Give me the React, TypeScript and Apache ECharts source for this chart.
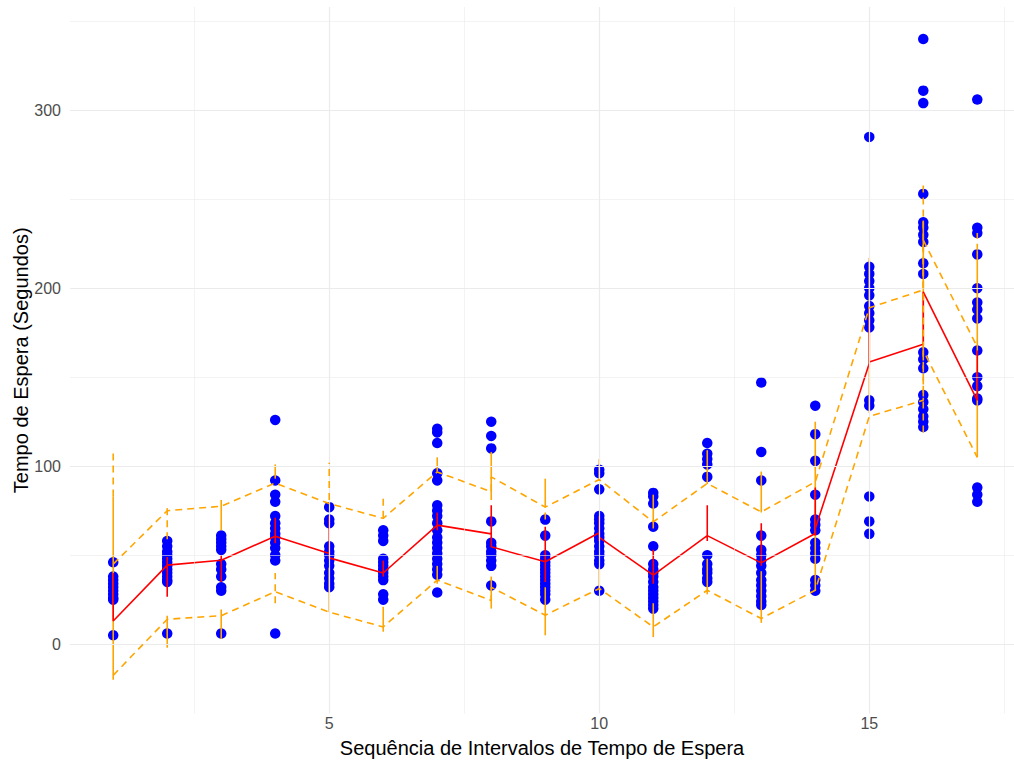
import React, { useEffect, useRef } from "react";
import * as echarts from "echarts";

// ---- axis ticks / grid ----
const xTickValues = [5, 10, 15];
const yTickValues = [0, 100, 200, 300];
const xMajorGrid = [5, 10, 15];
const xMinorGrid = [2.5, 7.5, 12.5, 17.5];
const yMajorGrid = [0, 100, 200, 300];
const yMinorGrid = [50, 150, 250, 350];

// ---- data ----
const positions = [1, 2, 3, 4, 5, 6, 7, 8, 9, 10, 11, 12, 13, 14, 15, 16, 17];

const waitTimes: number[][] = [
  [46, 38, 36, 34, 32, 30, 28, 26, 25, 5],
  [58, 55, 52, 50, 48, 46, 44, 42, 40, 38, 36, 35, 6],
  [61, 59, 57, 55, 53, 45, 42, 38, 32, 30, 6],
  [126, 92, 84, 80, 72, 68, 65, 62, 60, 57, 54, 50, 47, 6],
  [77, 70, 68, 55, 52, 50, 47, 44, 40, 37, 34, 32],
  [64, 61, 58, 48, 46, 44, 42, 40, 38, 36, 28, 25],
  [121, 119, 113, 96, 92, 78, 75, 72, 68, 64, 60, 57, 54, 51, 48, 45, 42, 39, 29],
  [125, 117, 110, 69, 57, 55, 52, 50, 47, 44, 33],
  [70, 61, 50, 48, 46, 44, 42, 40, 38, 36, 34, 32, 30, 28, 25],
  [98, 96, 87, 72, 70, 68, 65, 62, 60, 58, 55, 52, 50, 47, 45, 30],
  [85, 83, 79, 66, 55, 45, 42, 40, 38, 35, 32, 30, 28, 26, 24, 22, 20],
  [113, 107, 104, 101, 94, 50, 45, 42, 40, 37, 35],
  [147, 108, 92, 61, 53, 50, 47, 44, 40, 36, 33, 30, 27, 24, 22],
  [134, 118, 103, 84, 70, 67, 64, 57, 54, 51, 48, 36, 33, 30],
  [285, 212, 208, 204, 200, 196, 190, 186, 182, 178, 137, 134, 83, 69, 62],
  [340, 311, 304, 253, 237, 234, 230, 226, 214, 208, 164, 160, 155, 140, 136, 132, 128, 125, 122],
  [306, 234, 231, 219, 200, 192, 188, 183, 165, 150, 145, 138, 137, 88, 84, 80],
];

// red summary line (entry / exit value at each position and its vertical span)
const redIn = [13, 44.4, 47.2, 60.7, 51, 40, 66.9, 62, 46.3, 62.6, 38.8, 61, 45.7, 62.2, 157.7, 168.5, 137];
const redOut = [13, 44.4, 47.2, 60.7, 48.5, 40, 66.9, 54.7, 46.3, 60, 38.8, 61, 45.7, 65, 158.5, 198, 137];
const redLo = [13, 26.6, 35, 56.7, 48, 38, 64, 54.7, 35, 58, 34, 58, 44, 61, 157, 168, 137];
const redHi = [40, 49, 50, 71, 72, 47, 74, 78, 66, 72, 53, 78, 68, 88, 189, 198, 165];

// orange dashed upper / lower bounds (entry / exit at each position)
const upperIn = [45, 75, 77.5, 90.5, 79, 70.7, 96.8, 85.6, 77, 92.5, 68.7, 90.3, 74.3, 91.2, 189, 199, 167];
const upperOut = [45, 75, 77.5, 90.5, 79, 70.7, 96.8, 94, 77, 92.5, 68.7, 90.3, 74.3, 91.2, 189, 227, 167];
const lowerIn = [-17.5, 14, 16, 29.5, 18, 9.7, 36, 24.5, 16.3, 31.3, 9.7, 30.3, 14.4, 30.3, 128, 137, 105];
const lowerOut = [-17.5, 14, 16, 29.5, 18, 9.7, 36, 32, 16.3, 31.3, 9.7, 30.3, 14.4, 30.3, 128, 165, 105];

// orange vertical ranges: [position, low, high]
const orangeSolid: number[][] = [
  [1, -20, 83],
  [2, -2, 16],
  [3, 64, 81], [3, 3, 19.5],
  [4, 93, 101],
  [5, 18, 43],
  [6, 7, 21],
  [7, 97, 105], [7, 34, 44],
  [8, 81, 108], [8, 20, 38],
  [9, 77, 93], [9, 5, 32],
  [10, 92, 104], [10, 31, 43],
  [11, 65, 84], [11, 4, 23],
  [12, 90, 109], [12, 28, 48],
  [13, 74, 97], [13, 12, 41],
  [14, 30, 125],
  [15, 130, 217],
  [16, 163, 238],
  [17, 105, 221],
];
const orangeDashed: number[][] = [
  [1, 83, 110],
  [2, 59, 78],
  [4, 23, 40],
  [5, 81, 102],
  [6, 71, 82],
  [9, 70, 77],
  [16, 119, 259],
  [17, 221, 231],
];

const BLUE = "#0000FF";
const RED = "#FF0000";
const ORANGE = "#FFA500";
const GRID = "#EBEBEB";
const FONT = "Liberation Sans, Arial, sans-serif";

export default function App() {
  const ref = useRef<HTMLDivElement>(null);

  useEffect(() => {
    if (!ref.current) return;
    const chart = echarts.init(ref.current, undefined, { renderer: "svg" });

    const points: number[][] = [];
    positions.forEach((p, i) => waitTimes[i].forEach((v) => points.push([p, v])));

    const redPath: number[][] = [];
    positions.forEach((p, i) => {
      redPath.push([p, redIn[i]], [p, redLo[i]], [p, redHi[i]], [p, redOut[i]]);
    });
    const upperPath: number[][] = [];
    const lowerPath: number[][] = [];
    positions.forEach((p, i) => {
      upperPath.push([p, upperIn[i]], [p, upperOut[i]]);
      lowerPath.push([p, lowerIn[i]], [p, lowerOut[i]]);
    });

    const segRender = (dash: number[] | null) => (params: any, api: any) => {
      const x = api.value(0);
      const a = api.coord([x, api.value(1)]);
      const b = api.coord([x, api.value(2)]);
      return {
        type: "line",
        shape: { x1: a[0], y1: a[1], x2: b[0], y2: b[1] },
        style: { stroke: ORANGE, lineWidth: 1.6, lineDash: dash || undefined, fill: null },
      };
    };

    const gridLines = [
      ...yMajorGrid.map((v) => ({ yAxis: v, lineStyle: { color: GRID, width: 1.2, type: "solid" } })),
      ...yMinorGrid.map((v) => ({ yAxis: v, lineStyle: { color: GRID, width: 0.6, type: "solid" } })),
      ...xMajorGrid.map((v) => ({ xAxis: v, lineStyle: { color: GRID, width: 1.2, type: "solid" } })),
      ...xMinorGrid.map((v) => ({ xAxis: v, lineStyle: { color: GRID, width: 0.6, type: "solid" } })),
    ];

    chart.setOption({
      animation: false,
      backgroundColor: "#FFFFFF",
      grid: {
        left: 70,
        top: 7,
        right: 0,
        bottom: 52.4,
        containLabel: false,
        outerBoundsMode: "none",
      },
      xAxis: {
        type: "value",
        min: 0.2,
        max: 17.68,
        name: "Sequência de Intervalos de Tempo de Espera",
        nameLocation: "middle",
        nameGap: 24,
        nameMoveOverlap: false,
        nameTextStyle: { color: "#000000", fontSize: 20, fontFamily: FONT },
        axisLine: { show: false },
        axisTick: { show: false },
        splitLine: { show: false },
        axisLabel: {
          customValues: xTickValues,
          color: "#4D4D4D",
          fontSize: 16,
          fontFamily: FONT,
          margin: 2,
        },
      },
      yAxis: {
        type: "value",
        min: -39,
        max: 358,
        name: "Tempo de Espera (Segundos)",
        nameLocation: "middle",
        nameRotate: 90,
        nameGap: 39,
        nameMoveOverlap: false,
        nameTextStyle: { color: "#000000", fontSize: 20, fontFamily: FONT },
        axisLine: { show: false },
        axisTick: { show: false },
        splitLine: { show: false },
        axisLabel: {
          customValues: yTickValues,
          color: "#4D4D4D",
          fontSize: 16,
          fontFamily: FONT,
          margin: 9,
        },
      },
      series: [
        {
          type: "line",
          data: [],
          z: 0,
          silent: true,
          markLine: {
            silent: true,
            symbol: ["none", "none"],
            label: { show: false },
            animation: false,
            data: gridLines,
          },
        },
        {
          type: "scatter",
          data: points,
          symbol: "circle",
          symbolSize: 10.5,
          itemStyle: { color: BLUE, opacity: 1 },
          z: 2,
        },
        {
          type: "custom",
          data: orangeSolid,
          renderItem: segRender(null),
          encode: { x: 0, y: [1, 2] },
          z: 3,
        },
        {
          type: "line",
          data: redPath,
          showSymbol: false,
          symbol: "none",
          lineStyle: { color: RED, width: 1.6 },
          z: 4,
        },
        {
          type: "line",
          data: upperPath,
          showSymbol: false,
          symbol: "none",
          lineStyle: { color: ORANGE, width: 1.6, type: [7, 5] },
          z: 5,
        },
        {
          type: "line",
          data: lowerPath,
          showSymbol: false,
          symbol: "none",
          lineStyle: { color: ORANGE, width: 1.6, type: [7, 5] },
          z: 5,
        },
        {
          type: "custom",
          data: orangeDashed,
          renderItem: segRender([7, 5]),
          encode: { x: 0, y: [1, 2] },
          z: 5,
        },
      ],
    });

    return () => chart.dispose();
  }, []);

  return (
    <div
      ref={ref}
      style={{ position: "absolute", left: 0, top: 0, width: 1014, height: 766, background: "#fff" }}
    />
  );
}
